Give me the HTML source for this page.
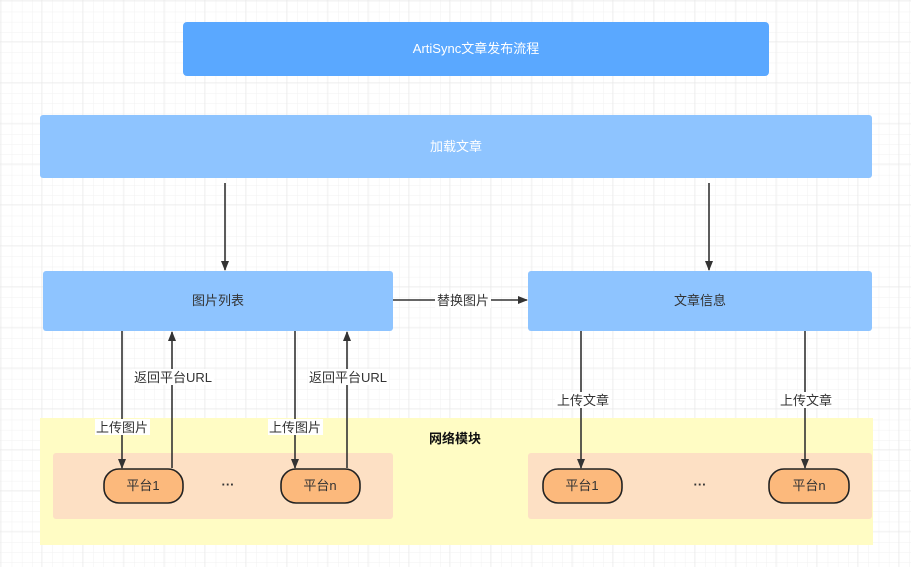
<!DOCTYPE html>
<html><head><meta charset="utf-8"><style>
html,body{margin:0;padding:0;background:#fff;}
svg{display:block;}
text{font-family:"Liberation Sans","Noto Sans CJK SC",sans-serif;font-size:13px;}
</style></head><body>
<svg width="911" height="567" viewBox="0 0 911 567" xmlns="http://www.w3.org/2000/svg">
<defs>
<pattern id="minor" x="2" y="2" width="10.2" height="10.2" patternUnits="userSpaceOnUse">
<path d="M10.2 0V10.2H0" fill="none" stroke="#f1f1f1" stroke-width="1"/>
</pattern>
<pattern id="major" x="1" y="1" width="40.8" height="40.8" patternUnits="userSpaceOnUse">
<path d="M40.8 0V40.8H0" fill="none" stroke="#e8e8e8" stroke-width="1"/>
</pattern>
<marker id="ar" markerWidth="10" markerHeight="10" refX="9" refY="5" orient="auto" markerUnits="userSpaceOnUse">
<path d="M0,1 L10,5 L0,9 Z" fill="#333"/>
</marker>
</defs>
<rect width="911" height="567" fill="url(#minor)"/>
<rect width="911" height="567" fill="url(#major)"/>

<rect x="183" y="22" width="586" height="54" rx="4" fill="#5aa8ff"/>
<text x="476" y="53" fill="#fff" text-anchor="middle">ArtiSync文章发布流程</text>

<rect x="40" y="115" width="832" height="63" rx="3" fill="#8ec4ff"/>
<text x="456" y="151" fill="#fff" text-anchor="middle">加载文章</text>

<rect x="40" y="418" width="833" height="127" fill="#fffcc4"/>
<text x="455" y="443" fill="#111" font-weight="bold" text-anchor="middle">网络模块</text>
<rect x="53" y="453" width="340" height="66" rx="3" fill="#fde0c4"/>
<rect x="528" y="453" width="344" height="66" rx="3" fill="#fde0c4"/>

<rect x="43" y="271" width="350" height="60" rx="3" fill="#8ec4ff"/>
<text x="218" y="305" fill="#333" text-anchor="middle">图片列表</text>
<rect x="528" y="271" width="344" height="60" rx="3" fill="#8ec4ff"/>
<text x="700" y="305" fill="#333" text-anchor="middle">文章信息</text>

<g stroke="#333" stroke-width="1.6" fill="none" marker-end="url(#ar)">
<line x1="225" y1="183" x2="225" y2="270"/>
<line x1="709" y1="183" x2="709" y2="270"/>
<line x1="393" y1="300" x2="527" y2="300"/>
<line x1="122" y1="331" x2="122" y2="468"/>
<line x1="172" y1="468" x2="172" y2="332"/>
<line x1="295" y1="331" x2="295" y2="468"/>
<line x1="347" y1="468" x2="347" y2="332"/>
<line x1="581" y1="331" x2="581" y2="468"/>
<line x1="805" y1="331" x2="805" y2="468"/>
</g>

<g fill="#fff">
<rect x="435" y="292" width="56" height="16"/>
<rect x="132" y="369" width="82" height="16"/>
<rect x="308" y="369" width="80" height="16"/>
<rect x="95" y="419" width="55" height="16"/>
<rect x="268" y="419" width="55" height="16"/>
<rect x="555" y="392" width="56" height="16"/>
<rect x="778" y="392" width="56" height="16"/>
</g>
<g fill="#333" text-anchor="middle">
<text x="463" y="305">替换图片</text>
<text x="173" y="382">返回平台URL</text>
<text x="348" y="382">返回平台URL</text>
<text x="122" y="432">上传图片</text>
<text x="295" y="432">上传图片</text>
<text x="583" y="405">上传文章</text>
<text x="806" y="405">上传文章</text>
</g>

<g fill="#fcb97c" stroke="#222" stroke-width="1.6">
<rect x="104" y="469" width="79" height="34" rx="15"/>
<rect x="281" y="469" width="79" height="34" rx="15"/>
<rect x="543" y="469" width="79" height="34" rx="15"/>
<rect x="769" y="469" width="80" height="34" rx="15"/>
</g>
<g fill="#333" text-anchor="middle">
<text x="143" y="490">平台1</text>
<text x="320" y="490">平台n</text>
<text x="582" y="490">平台1</text>
<text x="809" y="490">平台n</text>
<text x="228" y="489" font-weight="bold" font-size="14">···</text>
<text x="700" y="489" font-weight="bold" font-size="14">···</text>
</g>
</svg>
</body></html>
